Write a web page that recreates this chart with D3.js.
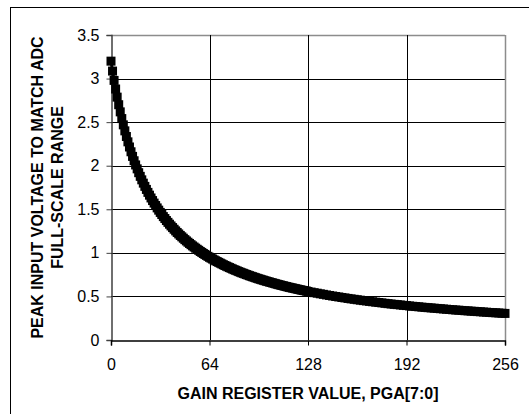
<!DOCTYPE html>
<html>
<head>
<meta charset="utf-8">
<script src="https://cdn.jsdelivr.net/npm/d3@7"></script>
<style>
  html, body { margin: 0; padding: 0; background: #fff; }
  svg { display: block; }
  text { font-family: Arial, "Liberation Sans", sans-serif; fill: #000; }
</style>
</head>
<body>
<script>
// ---- data ----
const gainCodes = d3.range(0, 129).concat(d3.range(130, 257, 2));
const peakVoltage = [
  3.200, 3.086, 2.979, 2.880, 2.787, 2.700, 2.618, 2.541, 2.469, 2.400,
  2.335, 2.274, 2.215, 2.160, 2.107, 2.057, 2.009, 1.964, 1.920, 1.878,
  1.838, 1.800, 1.763, 1.728, 1.694, 1.662, 1.630, 1.600, 1.571, 1.543,
  1.516, 1.490, 1.464, 1.440, 1.416, 1.394, 1.371, 1.350, 1.329, 1.309,
  1.290, 1.271, 1.252, 1.234, 1.217, 1.200, 1.184, 1.168, 1.152, 1.137,
  1.122, 1.108, 1.094, 1.080, 1.067, 1.054, 1.041, 1.029, 1.016, 1.005,
  0.993, 0.982, 0.971, 0.960, 0.949, 0.939, 0.929, 0.919, 0.909, 0.900,
  0.891, 0.882, 0.873, 0.864, 0.855, 0.847, 0.839, 0.831, 0.823, 0.815,
  0.807, 0.800, 0.793, 0.785, 0.778, 0.771, 0.765, 0.758, 0.751, 0.745,
  0.738, 0.732, 0.726, 0.720, 0.714, 0.708, 0.702, 0.697, 0.691, 0.686,
  0.680, 0.675, 0.670, 0.665, 0.660, 0.655, 0.650, 0.645, 0.640, 0.635,
  0.631, 0.626, 0.622, 0.617, 0.613, 0.608, 0.604, 0.600, 0.596, 0.592,
  0.588, 0.584, 0.580, 0.576, 0.572, 0.568, 0.565, 0.561, 0.557,
  0.550, 0.543, 0.537, 0.530, 0.524, 0.517, 0.511, 0.505, 0.499, 0.494,
  0.488, 0.483, 0.477, 0.472, 0.467, 0.462, 0.457, 0.452, 0.448, 0.443,
  0.439, 0.434, 0.430, 0.426, 0.421, 0.417, 0.413, 0.409, 0.406, 0.402,
  0.398, 0.395, 0.391, 0.387, 0.384, 0.381, 0.377, 0.374, 0.371, 0.368,
  0.365, 0.362, 0.359, 0.356, 0.353, 0.350, 0.347, 0.344, 0.342, 0.339,
  0.336, 0.334, 0.331, 0.329, 0.326, 0.324, 0.321, 0.319, 0.316, 0.314,
  0.312, 0.310, 0.307, 0.305
];
const xTicks = [0, 64, 128, 192, 256];
const yTicks = [0, 0.5, 1, 1.5, 2, 2.5, 3, 3.5];
const xTitle = "GAIN REGISTER VALUE, PGA[7:0]";
const yTitleLines = ["PEAK INPUT VOLTAGE TO MATCH ADC", "FULL-SCALE RANGE"];

const points = gainCodes.map((g, i) => ({ g, v: peakVoltage[i] }));

// ---- layout ----
const W = 529, H = 414;
const m = { left: 111, right: 505, top: 35, bottom: 340 };

const svg = d3.select("body").append("svg").attr("width", W).attr("height", H);

// outer frame (only left/top visible in reference)
svg.append("rect").attr("x", 10.5).attr("y", 7.5).attr("width", 540).attr("height", 430)
  .attr("fill", "#fff").attr("stroke", "#000").attr("stroke-width", 1);

const x = d3.scaleLinear().domain([0, 256]).range([m.left, m.right]);
const y = d3.scaleLinear().domain([0, 3.5]).range([m.bottom, m.top]);

// gridlines
const grid = svg.append("g");
grid.selectAll("line.h").data(yTicks.filter(t => t > 0)).join("line")
  .attr("x1", m.left).attr("x2", m.right)
  .attr("y1", d => Math.round(y(d)) + 0.5).attr("y2", d => Math.round(y(d)) + 0.5)
  .attr("stroke", d => d === 3.5 ? "#8c8c8c" : "#000").attr("stroke-width", d => d === 3.5 ? 1.5 : 1);
grid.selectAll("line.v").data(xTicks.filter(t => t > 0)).join("line")
  .attr("y1", m.top).attr("y2", m.bottom)
  .attr("x1", d => Math.round(x(d)) + 0.5).attr("x2", d => Math.round(x(d)) + 0.5)
  .attr("stroke", d => d === 256 ? "#8c8c8c" : "#000").attr("stroke-width", d => d === 256 ? 1.5 : 1);

// axes
const yAxis = d3.axisLeft(y).tickValues(yTicks).tickSize(5).tickPadding(7)
  .tickFormat(d => d3.format("")(d));
const xAxis = d3.axisBottom(x).tickValues(xTicks).tickSize(5).tickPadding(13)
  .tickFormat(d => d);

const gy = svg.append("g").attr("transform", `translate(${m.left + 0.5},0)`).call(yAxis);
gy.select(".domain").attr("stroke", "#404040").attr("stroke-width", 1.5);
gy.selectAll(".tick line").attr("stroke", "#404040");
gy.selectAll(".tick text").attr("font-size", 16).attr("font-family", "Arial, 'Liberation Sans', sans-serif");

const gx = svg.append("g").attr("transform", `translate(0,${m.bottom + 0.5})`).call(xAxis);
gx.select(".domain").attr("stroke", "#000").attr("stroke-width", 1.5);
gx.selectAll(".tick line").attr("stroke", "#000");
gx.selectAll(".tick text").attr("font-size", 16).attr("font-family", "Arial, 'Liberation Sans', sans-serif");

// series: square markers
const ms = 9;
svg.append("path").datum(points)
  .attr("d", d3.line().x(d => x(d.g)).y(d => y(d.v)))
  .attr("fill", "none").attr("stroke", "#000").attr("stroke-width", 3);
svg.append("g").selectAll("rect").data(points).join("rect")
  .attr("x", d => x(d.g) - ms / 2).attr("y", d => y(d.v) - ms / 2)
  .attr("width", ms).attr("height", ms).attr("fill", "#000");

// titles
svg.append("text").attr("x", (m.left + m.right) / 2).attr("y", 399)
  .attr("text-anchor", "middle").attr("font-size", 16).attr("font-weight", "bold")
  .text(xTitle);

const yc = (m.top + m.bottom) / 2;
[43, 63].forEach((bx, i) => {
  svg.append("text").attr("transform", `translate(${bx},${yc}) rotate(-90)`)
    .attr("text-anchor", "middle").attr("font-size", 16).attr("font-weight", "bold")
    .text(yTitleLines[i]);
});
</script>
</body>
</html>
